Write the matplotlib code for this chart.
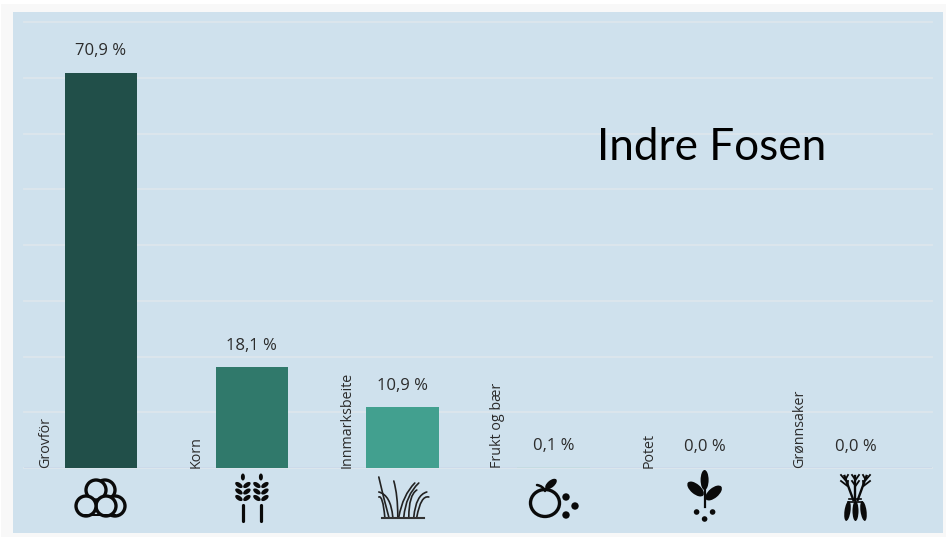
import numpy as np
import matplotlib
matplotlib.use("Agg")
import matplotlib.pyplot as plt
from matplotlib.patches import Rectangle, Circle, Ellipse, PathPatch
from matplotlib.path import Path

categories = ["Grovför", "Korn", "Innmarksbeite", "Frukt og bær", "Potet", "Grønnsaker"]
values = [70.9, 18.1, 10.9, 0.1, 0.0, 0.0]
value_labels = ["70,9 %", "18,1 %", "10,9 %", "0,1 %", "0,0 %", "0,0 %"]
bar_colors = ["#214f49", "#30796b", "#42a08f", "#c4dbe2", "#c4dbe2", "#c4dbe2"]
yticks = [0, 10, 20, 30, 40, 50, 60, 70, 80]
title = "Indre Fosen"

W, H = 948, 537
fig = plt.figure(figsize=(W / 100, H / 100), dpi=100, facecolor="white")
plt.rcParams["font.family"] = ["Open Sans", "DejaVu Sans"]

# pixel-space background and icon layer
bg = fig.add_axes([0, 0, 1, 1], zorder=0)
bg.set_xlim(0, W); bg.set_ylim(H, 0); bg.axis("off")
bg.add_patch(Rectangle((1, 4), 945, 533, fc="#f8f8f8", ec="none"))
bg.add_patch(Rectangle((13, 12), 930, 521, fc="#cfe1ed", ec="none"))

# chart
ax = fig.add_axes([24 / W, 1 - 468 / H, (932 - 24) / W, (468 - 22) / H], zorder=1)
ax.patch.set_alpha(0)
x = np.arange(len(categories))
ax.set_xlim(-77 / 150.9, 831 / 150.9)
ax.set_ylim(0, 80)
ax.set_yticks(yticks)
ax.grid(axis="y", color="#dde6ec", lw=1.3, clip_on=False)
ax.set_axisbelow(True)
ax.tick_params(length=0, labelleft=False, labelbottom=False)
for s in ax.spines.values():
    s.set_visible(False)
ax.axhline(0, color="#c8d8ea", lw=1.2, zorder=1)
ax.bar(x, values, width=0.482, color=bar_colors, edgecolor="none", zorder=2)

for i, (v, lab, cat) in enumerate(zip(values, value_labels, categories)):
    ax.annotate(lab, (i, v), xytext=(0, 15.3), textcoords="offset points",
                ha="center", va="center", fontsize=12, color="#2b2b2b", clip_on=False)
    ax.annotate(cat, (i, 0), xytext=(-40.2, 0), textcoords="offset points",
                rotation=90, ha="center", va="bottom", fontsize=10.3,
                color="#2b2b2b", clip_on=False)

fig.text(711.5 / W, 1 - 148 / H, title, ha="center", va="center",
         fontsize=31.8, family=["Lato", "DejaVu Sans"], color="black")

# ---- icons (decoration) drawn in pixel space ----
k = "#0a0a0a"
def leaf(cx, cy, length, width, angle, z=3):
    bg.add_patch(Ellipse((cx, cy), length, width, angle=angle, fc=k, ec="none", zorder=z))

def curve(p0, p1, p2, lw=1.2, color="#222222"):
    bg.add_patch(PathPatch(Path([p0, p1, p2], [Path.MOVETO, Path.CURVE3, Path.CURVE3]),
                           fc="none", ec=color, lw=lw, capstyle="round"))

cxs = [101 + 150.9 * i for i in range(6)]

# bales
c = cxs[0]
for dx, dy, r in [(4, 490, 10), (14, 506, 10), (-5, 490, 10), (5, 506, 10), (-15, 506, 10)]:
    bg.add_patch(Circle((c + dx, dy), r, fc="#cfe1ed", ec=k, lw=2.4))
bg.add_patch(Rectangle((c - 17, 513.5), 32, 2.5, fc=k, ec="none"))

# wheat
c = cxs[1]
for sx in (c - 9, c + 9):
    bg.plot([sx, sx], [505, 521], color=k, lw=2.3, solid_capstyle="round")
    leaf(sx, 477, 7, 4, 90)
    for y in (485, 491.5, 498):
        leaf(sx - 4, y, 8.5, 4.5, 35)
        leaf(sx + 4, y, 8.5, 4.5, -35)

# grass
c = cxs[2]
bg.plot([c - 21, c + 21], [518, 518], color="#333333", lw=1.5)
for x0, x1, xt, yt in [(-11, -19, -24, 477), (-7, -11, -24, 492), (-2, -4, -9, 481),
                       (-15, -19, -24, 497), (4, 4, 16, 483), (9, 7, 14, 490),
                       (-1, 1, 12, 483), (14, 14, 24, 492), (17, 19, 26, 497)]:
    curve((c + x0 - 3, 517), (c + x1 - 1, 495), (c + xt, yt))

# apple and berries
c = 545
bg.add_patch(Ellipse((c, 503), 29, 27, fc="none", ec=k, lw=2.4))
curve((c, 491), (c - 2, 486), (c - 8, 485), lw=1.8, color=k)
leaf(c + 6, 484, 14, 7, -40)
for dx, dy in [(21, -7), (30, 2), (21, 11)]:
    bg.add_patch(Circle((c + dx, 504 + dy), 3.7, fc=k, ec="none"))

# potato plant
c = cxs[4]
bg.plot([c, c], [490, 507], color=k, lw=1.6)
leaf(c, 480, 20, 8, 90)
leaf(c - 9, 489, 20, 10, 40)
leaf(c + 9, 493, 20, 10, -40)
for dx, dy in [(-8, 512), (8, 512), (0, 519)]:
    bg.add_patch(Circle((c + dx, dy), 2.8, fc=k, ec="none"))

# carrots
c = cxs[5]
for dx in (-11, 0, 11):
    bg.plot([c + dx, c + dx * 0.2], [476, 500], color=k, lw=1.7)
    for y in (478, 484):
        bg.plot([c + dx - 3.5, c + dx * (1 - (y - 476) / 30), c + dx + 3.5],
                [y - 3, y + 2, y - 3], color=k, lw=1.3)
bg.plot([c - 6, c + 6], [499, 499], color=k, lw=1.2)
bg.plot([c - 7, c + 7], [501.5, 501.5], color=k, lw=1.2)
for dx, ang in [(-8, 8), (0, 0), (8, -8)]:
    bg.add_patch(Ellipse((c + dx, 511), 6, 20, angle=ang, fc=k, ec="none"))

fig.savefig("out.png", dpi=100, facecolor="white")
